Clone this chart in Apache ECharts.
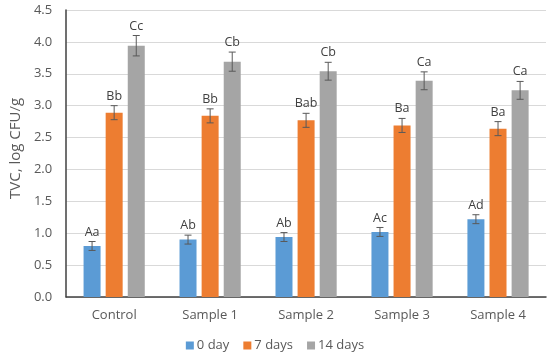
<!DOCTYPE html>
<html>
<head>
<meta charset="utf-8">
<script src="https://cdn.jsdelivr.net/npm/echarts@6/dist/echarts.min.js"></script>
<style>html,body{margin:0;padding:0;background:#fff;}#c{width:550px;height:359px;}</style>
</head>
<body>
<div id="c"></div>
<script>
const categories = ['Control', 'Sample 1', 'Sample 2', 'Sample 3', 'Sample 4'];
const seriesNames = ['0 day', '7 days', '14 days'];
const day0 = [0.80, 0.90, 0.94, 1.02, 1.22];
const day7 = [2.89, 2.84, 2.77, 2.69, 2.64];
const day14 = [3.94, 3.69, 3.54, 3.39, 3.24];
const err0 = [0.07, 0.07, 0.07, 0.07, 0.07];
const err7 = [0.11, 0.11, 0.11, 0.11, 0.11];
const err14 = [0.16, 0.15, 0.14, 0.14, 0.14];
const letters0 = ['Aa', 'Ab', 'Ab', 'Ac', 'Ad'];
const letters7 = ['Bb', 'Bb', 'Bab', 'Ba', 'Ba'];
const letters14 = ['Cc', 'Cb', 'Cb', 'Ca', 'Ca'];
const yTicks = ['0.0','0.5','1.0','1.5','2.0','2.5','3.0','3.5','4.0','4.5'];

const colors = ['#5B9BD5', '#ED7D31', '#A5A5A5'];
const FONT = 'Open Sans';
const BAR_W = 17, BAR_GAP = '30%';

const values = [day0, day7, day14];
const errs = [err0, err7, err14];
const letters = [letters0, letters7, letters14];

const chart = echarts.init(document.getElementById('c'), null, {renderer: 'canvas'});

const barSeries = values.map((vals, k) => ({
  name: seriesNames[k],
  type: 'bar',
  data: vals,
  barWidth: BAR_W,
  barGap: BAR_GAP,
  itemStyle: {color: colors[k]},
  z: 2
}));

const errSeries = values.map((vals, k) => ({
  name: seriesNames[k] + ' err',
  type: 'custom',
  data: vals.map((v, i) => [i, v, errs[k][i]]),
  encode: {x: 0, y: 1},
  z: 5,
  silent: true,
  renderItem: function (params, api) {
    const xi = api.value(0), v = api.value(1), e = api.value(2);
    const layouts = api.barLayout({count: 3, barWidth: BAR_W, barGap: BAR_GAP});
    const off = layouts[k].offsetCenter;
    const hi = api.coord([xi, v + e]);
    const lo = api.coord([xi, v - e]);
    const cx = hi[0] + off;
    const cap = 3.5;
    const st = {stroke: '#595959', lineWidth: 1};
    return {
      type: 'group',
      children: [
        {type: 'line', shape: {x1: cx, y1: hi[1], x2: cx, y2: lo[1]}, style: st},
        {type: 'line', shape: {x1: cx - cap, y1: hi[1], x2: cx + cap, y2: hi[1]}, style: st},
        {type: 'line', shape: {x1: cx - cap, y1: lo[1], x2: cx + cap, y2: lo[1]}, style: st},
        {type: 'text', style: {
          text: letters[k][params.dataIndex], x: cx, y: hi[1] - 3,
          align: 'center', verticalAlign: 'bottom',
          fill: '#404040', font: '12.5px "' + FONT + '"'
        }}
      ]
    };
  }
}));

chart.setOption({
  animation: false,
  backgroundColor: '#ffffff',
  textStyle: {fontFamily: FONT},
  grid: {left: 58, right: 4, top: 10, bottom: 62, containLabel: false},
  legend: {
    data: seriesNames,
    bottom: 2,
    left: 'center',
    icon: 'rect',
    itemWidth: 8,
    itemHeight: 8,
    itemGap: 14,
    textStyle: {color: '#595959', fontSize: 13, fontFamily: FONT, padding: [0, 0, 0, -2]}
  },
  xAxis: {
    type: 'category',
    data: categories,
    axisLine: {lineStyle: {color: '#404040', width: 1.5}},
    axisTick: {show: false},
    axisLabel: {color: '#595959', fontSize: 13, margin: 12, fontFamily: FONT}
  },
  yAxis: {
    type: 'value',
    min: 0, max: 4.5, interval: 0.5,
    name: 'TVC, log CFU/g',
    nameLocation: 'middle',
    nameGap: 38,
    nameTextStyle: {color: '#595959', fontSize: 15, fontFamily: FONT, padding: [0, 0, 0, 10]},
    axisLine: {show: true, lineStyle: {color: '#404040', width: 1.5}},
    axisTick: {show: false},
    axisLabel: {color: '#595959', fontSize: 13, margin: 14, fontFamily: FONT,
      formatter: (v) => yTicks[Math.round(v / 0.5)]},
    splitLine: {lineStyle: {color: '#D9D9D9', width: 1}}
  },
  series: barSeries.concat(errSeries)
});
</script>
</body>
</html>
